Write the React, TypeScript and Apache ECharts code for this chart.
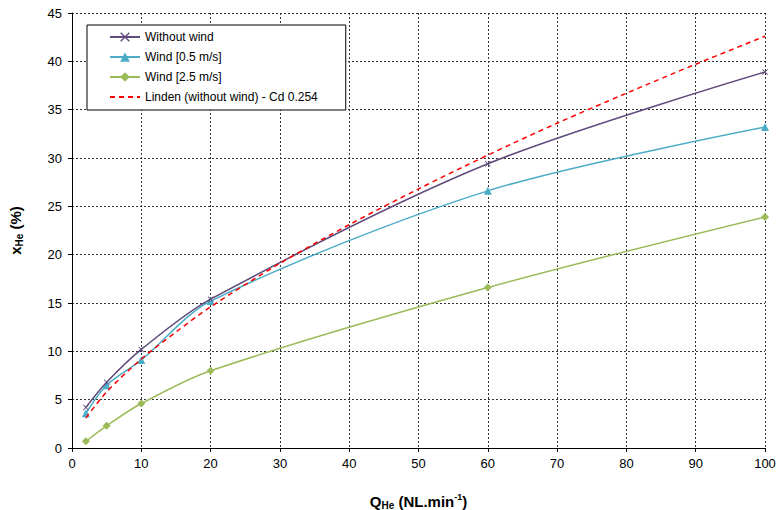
import React, { useEffect, useRef } from "react";
import * as echarts from "echarts";

const xMeasured = [2, 5, 10, 20, 60, 100];
const withoutWind = [4.2, 6.8, 10.2, 15.4, 29.4, 38.9];
const wind05 = [3.6, 6.5, 9.1, 15.2, 26.6, 33.2];
const wind25 = [0.7, 2.3, 4.6, 8.0, 16.6, 23.9];

const xLinden = [2, 5, 10, 15, 20, 30, 40, 50, 60, 70, 80, 90, 100];
const linden = [3.1, 5.8, 9.2, 12.0, 14.6, 19.1, 23.1, 26.8, 30.3, 33.6, 36.7, 39.7, 42.6];

const seriesNames = [
  "Without wind",
  "Wind [0.5 m/s]",
  "Wind [2.5 m/s]",
  "Linden (without wind) - Cd 0.254",
];

const FONT = "Liberation Sans, Arial, sans-serif";
const crossPath =
  "path://M0,1L1,0L5,4L9,0L10,1L6,5L10,9L9,10L5,6L1,10L0,9L4,5Z";

function pairs(xs: number[], ys: number[]) {
  return xs.map((x, i) => [x, ys[i]]);
}

export default function App() {
  const ref = useRef<HTMLDivElement>(null);
  useEffect(() => {
    const chart = echarts.init(ref.current!, null, { renderer: "svg" });
    const gridLine = { show: true, lineStyle: { color: "#333", type: [2, 2], width: 1 } };
    chart.setOption({
      animation: false,
      backgroundColor: "#fff",
      textStyle: { fontFamily: FONT },
      grid: { left: 72, right: 14, top: 13, bottom: 62, outerBoundsMode: "none", containLabel: false },
      legend: {
        left: 87,
        top: 25,
        orient: "vertical",
        backgroundColor: "#fff",
        borderColor: "#000",
        borderWidth: 1,
        borderRadius: 0,
        padding: [6, 28, 7, 22],
        itemWidth: 30,
        itemHeight: 12,
        itemGap: 8,
        textStyle: { fontFamily: FONT, fontSize: 12, color: "#000" },
        data: [
          { name: seriesNames[0] },
          { name: seriesNames[1] },
          { name: seriesNames[2] },
          { name: seriesNames[3], itemStyle: { opacity: 0 } },
        ],
      },
      xAxis: {
        type: "value",
        min: 0,
        max: 100,
        interval: 10,
        name: "{b|Q}{s|He}{b| (NL.min}{p|-1}{b|)}",
        nameLocation: "middle",
        nameGap: 44,
        nameTextStyle: {
          rich: {
            b: { fontFamily: FONT, fontSize: 15, fontWeight: "bold", color: "#000" },
            s: { fontFamily: FONT, fontSize: 10, fontWeight: "bold", color: "#000", padding: [8, 0, 0, 0] },
            p: { fontFamily: FONT, fontSize: 9, fontWeight: "bold", color: "#000", padding: [0, 0, 8, 0] },
          },
        },
        axisLine: { show: true, onZero: false, lineStyle: { color: "#000", width: 1 } },
        axisTick: { show: true, length: 4, lineStyle: { color: "#000" } },
        axisLabel: { fontFamily: FONT, fontSize: 13, color: "#000", margin: 9 },
        splitLine: gridLine,
      },
      yAxis: {
        type: "value",
        min: 0,
        max: 45,
        interval: 5,
        name: "{b|x}{s|He}{b| (%)}",
        nameLocation: "middle",
        nameGap: 48,
        nameRotate: 90,
        nameTextStyle: {
          rich: {
            b: { fontFamily: FONT, fontSize: 15, fontWeight: "bold", color: "#000" },
            s: { fontFamily: FONT, fontSize: 10, fontWeight: "bold", color: "#000", padding: [8, 0, 0, 0] },
          },
        },
        axisLine: { show: true, onZero: false, lineStyle: { color: "#000", width: 1 } },
        axisTick: { show: true, length: 4, lineStyle: { color: "#000" } },
        axisLabel: { fontFamily: FONT, fontSize: 13, color: "#000", margin: 10 },
        splitLine: gridLine,
      },
      series: [
        {
          name: seriesNames[0],
          type: "line",
          smooth: 0.3,
          data: pairs(xMeasured, withoutWind),
          symbol: crossPath,
          symbolSize: 6,
          lineStyle: { color: "#604A7B", width: 1.5 },
          itemStyle: { color: "#604A7B" },
          z: 4,
        },
        {
          name: seriesNames[1],
          type: "line",
          smooth: 0.3,
          data: pairs(xMeasured, wind05),
          symbol: "triangle",
          symbolSize: 8,
          lineStyle: { color: "#4BACC6", width: 1.5 },
          itemStyle: { color: "#4BACC6" },
          z: 3,
        },
        {
          name: seriesNames[2],
          type: "line",
          smooth: 0.3,
          data: pairs(xMeasured, wind25),
          symbol: "diamond",
          symbolSize: 8,
          lineStyle: { color: "#9BBB59", width: 1.5 },
          itemStyle: { color: "#9BBB59" },
          z: 3,
        },
        {
          name: seriesNames[3],
          type: "line",
          smooth: 0.3,
          data: pairs(xLinden, linden),
          symbol: "none",
          lineStyle: { color: "#FF0000", width: 1.5, type: [5, 4] },
          itemStyle: { color: "#FF0000" },
          z: 5,
        },
      ],
    });
    return () => chart.dispose();
  }, []);
  return (
    <div
      ref={ref}
      style={{ position: "fixed", left: 0, top: 0, width: 779, height: 510 }}
    />
  );
}
